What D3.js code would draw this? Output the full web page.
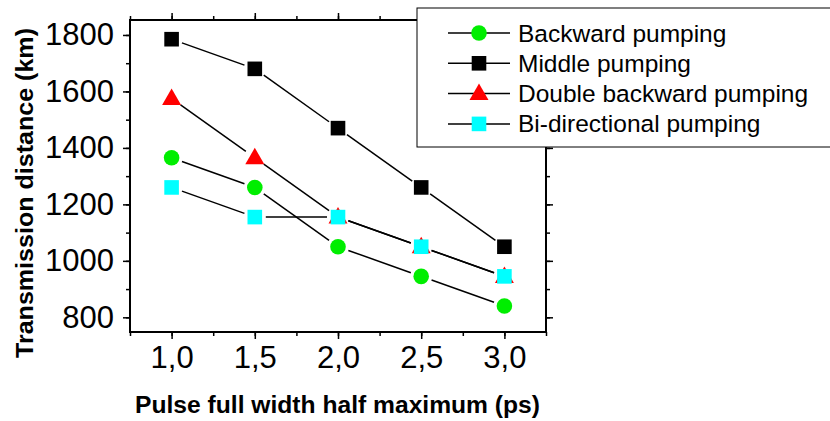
<!DOCTYPE html>
<html>
<head>
<meta charset="utf-8">
<script src="https://cdn.jsdelivr.net/npm/d3@7"></script>
<style>
  body { margin: 0; background: #fff; }
  svg { font-family: "Liberation Sans", Arial, sans-serif; }
</style>
</head>
<body>
<div id="chart"></div>
<script>
// Set variables
const FRAME_WIDTH = 830;
const FRAME_HEIGHT = 421;
const MARGINS = {left: 130, right: 284, top: 20, bottom: 89};
const VIS_WIDTH = FRAME_WIDTH - MARGINS.left - MARGINS.right;
const VIS_HEIGHT = FRAME_HEIGHT - MARGINS.top - MARGINS.bottom;

// Data
const pulseWidths = [1.0, 1.5, 2.0, 2.5, 3.0];
const backward = [1365, 1260, 1050, 945, 840];
const middle = [1785, 1680, 1470, 1260, 1050];
const doubleBackward = [1575, 1365, 1155, 1050, 945];
const biDirectional = [1260, 1155, 1155, 1050, 945];
const xTicks = [1.0, 1.5, 2.0, 2.5, 3.0];
const yTicks = [800, 1000, 1200, 1400, 1600, 1800];

const SERIES = [
  {name: "Backward pumping", values: backward, shape: "circle", color: "#00ee00"},
  {name: "Middle pumping", values: middle, shape: "square", color: "#000000"},
  {name: "Double backward pumping", values: doubleBackward, shape: "triangle", color: "#ff0000"},
  {name: "Bi-directional pumping", values: biDirectional, shape: "square", color: "#00ffff"}
];

const FRAME = d3.select("#chart")
  .append("svg")
    .attr("width", FRAME_WIDTH)
    .attr("height", FRAME_HEIGHT);

const X_SCALE = d3.scaleLinear().domain([0.75, 3.25]).range([0, VIS_WIDTH]);
const Y_SCALE = d3.scaleLinear().domain([748, 1853]).range([VIS_HEIGHT, 0]);

const G = FRAME.append("g")
  .attr("transform", "translate(" + MARGINS.left + "," + MARGINS.top + ")");

const fmt = (d) => d3.format(".1f")(d).replace(".", ",");
const xMinor = d3.range(0.75, 3.26, 0.25);
const yMinor = d3.range(800, 1851, 100);

// minor ticks
function minorAxis(axis, scale, vals) {
  return axis(scale).tickValues(vals).tickSize(4).tickFormat("");
}
G.append("g").attr("class", "axis")
  .attr("transform", "translate(0," + VIS_HEIGHT + ")")
  .call(minorAxis(d3.axisBottom, X_SCALE, xMinor));
G.append("g").attr("class", "axis")
  .call(minorAxis(d3.axisTop, X_SCALE, xMinor));
G.append("g").attr("class", "axis")
  .call(minorAxis(d3.axisLeft, Y_SCALE, yMinor));
G.append("g").attr("class", "axis")
  .attr("transform", "translate(" + VIS_WIDTH + ",0)")
  .call(minorAxis(d3.axisRight, Y_SCALE, yMinor));

// major ticks
G.append("g").attr("class", "axis")
  .attr("transform", "translate(0," + VIS_HEIGHT + ")")
  .call(d3.axisBottom(X_SCALE).tickValues(xTicks).tickSize(7).tickPadding(7).tickFormat(fmt));
G.append("g").attr("class", "axis")
  .call(d3.axisLeft(Y_SCALE).tickValues(yTicks).tickSize(7).tickPadding(9).tickFormat(d3.format("d")));
G.append("g").attr("class", "axis")
  .call(d3.axisTop(X_SCALE).tickValues(xTicks).tickSize(7).tickFormat(""));
G.append("g").attr("class", "axis")
  .attr("transform", "translate(" + VIS_WIDTH + ",0)")
  .call(d3.axisRight(Y_SCALE).tickValues(yTicks).tickSize(7).tickFormat(""));

G.selectAll(".axis .domain").remove();
G.selectAll(".axis line").attr("stroke", "#000").attr("stroke-width", 1.5);
G.selectAll(".axis text").attr("font-size", 31).attr("fill", "#000")
  .attr("font-family", "Liberation Sans, Arial, sans-serif");

// frame
G.append("rect")
  .attr("width", VIS_WIDTH)
  .attr("height", VIS_HEIGHT)
  .attr("fill", "none")
  .attr("stroke", "#000")
  .attr("stroke-width", 2);

// markers
function drawMarker(sel, shape, color, cx, cy) {
  if (shape === "circle") {
    sel.append("circle").attr("cx", cx).attr("cy", cy).attr("r", 7.8).attr("fill", color);
  } else if (shape === "square") {
    sel.append("rect").attr("x", cx - 7.3).attr("y", cy - 7.3).attr("width", 14.6).attr("height", 14.6)
      .attr("fill", color);
  } else {
    sel.append("path")
      .attr("d", "M" + cx + "," + (cy - 10) + "L" + (cx + 9.5) + "," + (cy + 6.5) + "L" + (cx - 9.5) + "," + (cy + 6.5) + "Z")
      .attr("fill", color);
  }
}

// lines, gapped at markers like the original
SERIES.forEach((s) => {
  for (let i = 0; i < s.values.length - 1; i++) {
    const x1 = X_SCALE(pulseWidths[i]), y1 = Y_SCALE(s.values[i]);
    const x2 = X_SCALE(pulseWidths[i + 1]), y2 = Y_SCALE(s.values[i + 1]);
    const len = Math.hypot(x2 - x1, y2 - y1);
    const gap = 11;
    const ux = (x2 - x1) / len, uy = (y2 - y1) / len;
    G.append("line")
      .attr("x1", x1 + ux * gap).attr("y1", y1 + uy * gap)
      .attr("x2", x2 - ux * gap).attr("y2", y2 - uy * gap)
      .attr("stroke", "#000").attr("stroke-width", 1.5);
  }
});

SERIES.forEach((s) => {
  const g = G.append("g");
  s.values.forEach((v, i) => drawMarker(g, s.shape, s.color, X_SCALE(pulseWidths[i]), Y_SCALE(v)));
});

// axis titles
FRAME.append("text")
  .attr("x", 135)
  .attr("y", 413)
  .attr("font-size", 23)
  .attr("font-weight", "bold")
  .attr("textLength", 405)
  .attr("lengthAdjust", "spacingAndGlyphs")
  .text("Pulse full width half maximum (ps)");

FRAME.append("text")
  .attr("transform", "translate(33,193) rotate(-90)")
  .attr("text-anchor", "middle")
  .attr("font-size", 23)
  .attr("font-weight", "bold")
  .attr("textLength", 330)
  .attr("lengthAdjust", "spacingAndGlyphs")
  .text("Transmission distance (km)");

// legend
const LEG = FRAME.append("g");
LEG.append("rect")
  .attr("x", 417).attr("y", 8)
  .attr("width", 420).attr("height", 139)
  .attr("fill", "#fff")
  .attr("stroke", "#000")
  .attr("stroke-width", 1);

SERIES.forEach((s, i) => {
  const y = 33 + i * 30.3;
  LEG.append("line").attr("x1", 448).attr("x2", 510).attr("y1", y).attr("y2", y)
    .attr("stroke", "#000").attr("stroke-width", 1.5);
  drawMarker(LEG, s.shape, s.color, 479, y);
  LEG.append("text")
    .attr("x", 518).attr("y", y + 8.5)
    .attr("font-size", 24.5)
    .text(s.name);
});
</script>
</body>
</html>
